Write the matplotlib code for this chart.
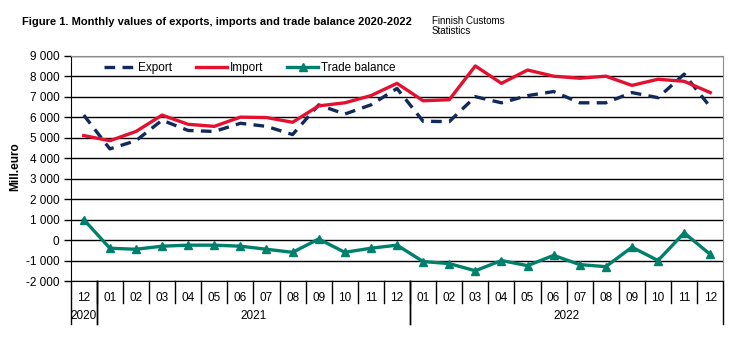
import matplotlib

matplotlib.use("Agg")

import matplotlib.pyplot as plt
from matplotlib.ticker import FuncFormatter

months = ["12", "01", "02", "03", "04", "05", "06", "07", "08", "09", "10", "11", "12",
          "01", "02", "03", "04", "05", "06", "07", "08", "09", "10", "11", "12"]
years = ["2020", "2021", "2022"]
year_spans = [(0, 1), (1, 13), (13, 25)]

export = [6100, 4450, 4850, 5850, 5350, 5300, 5700, 5550, 5150, 6600, 6150, 6600, 7400,
          5800, 5780, 7000, 6700, 7050, 7250, 6700, 6700, 7200, 6950, 8100, 6500]
imports = [5100, 4850, 5300, 6100, 5650, 5550, 6000, 5980, 5750, 6550, 6700, 7050, 7650,
           6800, 6850, 8500, 7650, 8300, 8000, 7900, 8000, 7550, 7850, 7750, 7200]
balance = [1000, -400, -450, -300, -250, -250, -300, -450, -600, 50, -600, -400, -250,
           -1050, -1150, -1500, -1000, -1250, -750, -1200, -1300, -350, -1000, 350, -700]

plt.rcParams["font.family"] = ["Liberation Sans", "DejaVu Sans"]

W, H = 756, 340
fig = plt.figure(figsize=(W / 100, H / 100), dpi=100)
x0, x1, ytop, ybot = 70.7, 723.3, 55.7, 281.0
ax = fig.add_axes([x0 / W, 1 - ybot / H, (x1 - x0) / W, (ybot - ytop) / H])

x = list(range(len(months)))
ax.plot(x, export, color="#102A5C", linewidth=2.4, linestyle=(0, (3.2, 2.2)), label="Export")
ax.plot(x, imports, color="#E4102F", linewidth=2.4, label="Import")
ax.plot(x, balance, color="#00806C", linewidth=2.4, marker="^", markersize=5.5, label="Trade balance")

ax.set_xlim(-0.5, len(months) - 0.5)
ax.set_ylim(-2000, 9000)
ax.set_yticks(range(-2000, 9001, 1000))
ax.yaxis.set_major_formatter(FuncFormatter(lambda v, p: f"{int(v):,}".replace(",", " ")))
ax.grid(axis="y", color="black", linewidth=1.0)
ax.set_axisbelow(True)
ax.tick_params(axis="y", length=5, width=1.0, labelsize=8.5, pad=3)

ax.set_xticks(x)
ax.set_xticklabels(months)
ax.tick_params(axis="x", length=0, labelsize=8.5, pad=8)

for side in ("top", "right"):
    ax.spines[side].set_color("#8C8C8C")
ax.spines["bottom"].set_color("black")
ax.spines["left"].set_color("black")

# month separators and year row
trans = ax.get_xaxis_transform()
axh = ybot - ytop
for i in range(1, len(months)):
    ax.plot([i - 0.5, i - 0.5], [0, -22 / axh], color="black", linewidth=1.0,
            transform=trans, clip_on=False)
for a, b in year_spans:
    for edge in (a - 0.5, b - 0.5):
        ax.plot([edge, edge], [0, -43 / axh], color="black", linewidth=1.0,
                transform=trans, clip_on=False)
for label, (a, b) in zip(years, year_spans):
    ax.text((a + b - 1) / 2, -35 / axh, label, transform=trans, ha="center", va="center",
            fontsize=8.5)

ax.legend(loc="upper left", bbox_to_anchor=(0.035, 1.02), ncol=3, frameon=False,
          fontsize=8.5, handlelength=2.6, handletextpad=0.3, columnspacing=2.0)

fig.text(15 / W, 1 - 167 / H, "Mill.euro", rotation=90, ha="center", va="center",
         fontsize=8.5, fontweight="bold")
fig.text(22 / W, 1 - 22 / H, "Figure 1. Monthly values of exports, imports and trade balance 2020-2022",
         ha="left", va="center", fontsize=8, fontweight="bold")
fig.text(432 / W, 1 - 26 / H, "Finnish Customs\nStatistics", ha="left", va="center",
         fontsize=7, linespacing=1.05)

fig.savefig("out.png", dpi=100)
plt.close(fig)
